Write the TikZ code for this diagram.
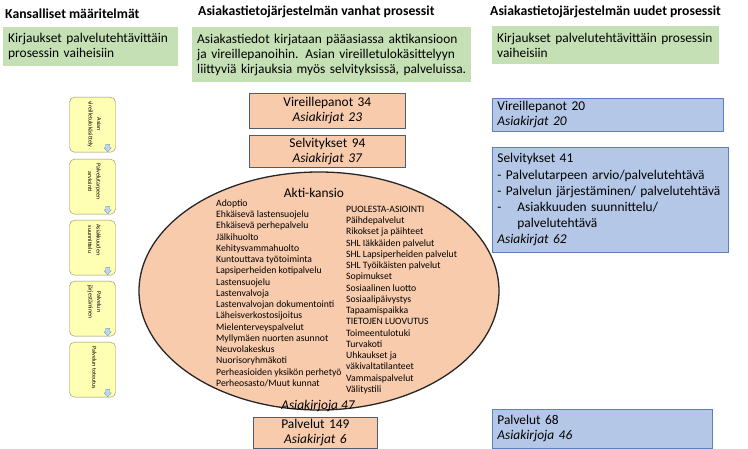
\documentclass[tikz,border=0pt]{standalone}
\usepackage{fontspec}
\setmainfont{Carlito}
\usetikzlibrary{shapes.geometric, positioning}

\definecolor{vihrea}{HTML}{C5E0B4}
\definecolor{persikka}{HTML}{F8CBAD}
\definecolor{persikkaraja}{HTML}{4E5E6E}
\definecolor{sininen}{HTML}{B4C7E7}
\definecolor{sinraja}{HTML}{5B7FBF}
\definecolor{keltainen}{HTML}{FFFFB3}
\definecolor{keltraja}{HTML}{8E8E60}
\definecolor{nuoli}{HTML}{BDD7EE}
\definecolor{nuoliraja}{HTML}{7A9CC6}

\begin{document}
\begin{tikzpicture}[x=1pt, y=-1pt,
		otsikko/.style={anchor=base west, inner sep=0pt, font=\fontsize{13.7}{15}\selectfont\bfseries},
		laatikko/.style={anchor=north west, inner xsep=5pt, inner ysep=0pt, align=left, font=\fontsize{13.4}{15}\selectfont},
		vihrealaatikko/.style={laatikko, fill=vihrea},
		sinilaatikko/.style={laatikko, fill=sininen, draw=sinraja, thick},
		persikkalaatikko/.style={laatikko, align=center, fill=persikka, draw=persikkaraja, thick},
		vaihe/.style={draw=keltraja, fill=keltainen, rounded corners=5pt, minimum width=46pt, minimum height=55pt, inner sep=0pt},
		vaiheteksti/.style={rotate=-90, anchor=west, align=center, inner sep=0pt, font=\fontsize{6}{8.5}\selectfont},
		lista/.style={anchor=north west, align=left, inner sep=0pt, font=\fontsize{9.7}{11.25}\selectfont}]
		
		\useasboundingbox (0,0) rectangle (748,449);
		
		% otsikot
		\node[otsikko] (kansalliset) at (5,18.5) {Kansalliset määritelmät};
		\node[otsikko] (vanhat) at (198,16) {Asiakastietojärjestelmän vanhat prosessit};
		\node[otsikko] (uudet) at (490,16) {Asiakastietojärjestelmän uudet prosessit};
		
		\node[vihrealaatikko, text width=165pt, minimum height=39pt] (kirjaukset) at (3,27)
		{Kirjaukset palvelutehtävittäin\\prosessin vaiheisiin};
		\node[vihrealaatikko, text width=269pt, minimum height=55pt] (kuvaus) at (192,27)
		{Asiakastiedot kirjataan pääasiassa aktikansioon\\ja vireillepanoihin. Asian vireilletulokäsittelyyn\\liittyviä kirjauksia myös selvityksissä, palveluissa.};
		\node[vihrealaatikko, text width=217pt, minimum height=38pt] (kirjauksetuudet) at (492,26)
		{Kirjaukset palvelutehtävittäin prosessin\\vaiheisiin};
		
		% prosessin vaiheet
		\foreach \ylaraja/\teksti [count=\i] in {97/{Asian\\vireilletulokäsittely}, 159/{Palvelutarpeen\\arviointi},
			220/{Asiakkuuden\\suunnittelu}, 281/{Palvelun\\järjestäminen}, 342/{Palvelun toteutus}} {
			\node[vaihe, anchor=north] (vaihe\i) at (92.5,\ylaraja) {};
			\node[vaiheteksti] (vaiheteksti\i) at ([xshift=2pt, yshift=-4pt]vaihe\i.north) {\teksti};
			\draw[fill=nuoli, draw=nuoliraja, line width=0.4pt] ([xshift=-10pt, yshift=8pt]vaihe\i.south east)
			-- ++(4,0) -- ++(0,3.5) -- ++(1.5,0) -- ++(-3.5,4) -- ++(-3.5,-4) -- ++(1.5,0) -- cycle;
		}
		
		% vanhat
		\node[persikkalaatikko, text width=146pt, minimum height=35pt] (vireille) at (249,93)
		{Vireillepanot 34\\\textit{Asiakirjat 23}};
		\node[persikkalaatikko, text width=146pt, minimum height=32pt] (selvitykset) at (249,135)
		{Selvitykset 94\\\textit{Asiakirjat 37}};
		
		\node[ellipse, draw=black!85, line width=1.3pt, fill=persikka, minimum width=360pt,
		minimum height=238pt, inner sep=0pt] (akti) at (319,291) {};
		\node[font=\fontsize{13.4}{15}\selectfont, inner sep=0pt] (aktiotsikko) at (314,193) {Akti-kansio};
		\node[lista] (lista1) at (216,199.5) {Adoptio\\Ehkäisevä lastensuojelu\\Ehkäisevä perhepalvelu\\Jälkihuolto\\
			Kehitysvammahuolto\\Kuntouttava työtoiminta\\Lapsiperheiden kotipalvelu\\Lastensuojelu\\Lastenvalvoja\\
			Lastenvalvojan dokumentointi\\Läheisverkostosijoitus\\Mielenterveyspalvelut\\Myllymäen nuorten asunnot\\
			Neuvolakeskus\\Nuorisoryhmäkoti\\Perheasioiden yksikön perhetyö\\Perheosasto/Muut kunnat};
		\node[lista] (lista2) at (346,206) {PUOLESTA-ASIOINTI\\Päihdepalvelut\\Rikokset ja päihteet\\SHL Iäkkäiden palvelut\\
			SHL Lapsiperheiden palvelut\\SHL Työikäisten palvelut\\Sopimukset\\Sosiaalinen luotto\\Sosiaalipäivystys\\
			Tapaamispaikka\\TIETOJEN LUOVUTUS\\Toimeentulotuki\\Turvakoti\\Uhkaukset ja\\väkivaltatilanteet\\
			Vammaispalvelut\\Välitystili};
		\node[font=\fontsize{13.4}{15}\selectfont\itshape, inner sep=0pt] (aktiasiakirjat) at (318,406) {Asiakirjoja 47};
		
		\node[persikkalaatikko, text width=114pt, minimum height=31pt] (palvelut) at (253,417)
		{Palvelut 149\\\textit{Asiakirjat 6}};
		
		% uudet
		\node[sinilaatikko, text width=221pt, minimum height=33pt] (vireilleuudet) at (492,98)
		{Vireillepanot 20\\\textit{Asiakirjat 20}};
		\node[sinilaatikko, text width=226pt, minimum height=105pt, font=\fontsize{13.4}{16.2}\selectfont] (selvityksetuudet) at (492,147)
		{Selvitykset 41\\- Palvelutarpeen arvio/palvelutehtävä\\- Palvelun järjestäminen/ palvelutehtävä\\
			\makebox[20pt][l]{-}Asiakkuuden suunnittelu/\\\hspace*{20pt}palvelutehtävä\\\textit{Asiakirjat 62}};
		\node[sinilaatikko, text width=210pt, minimum height=39pt] (palvelutuudet) at (492,409)
		{Palvelut 68\\\textit{Asiakirjoja 46}};
		
	\end{tikzpicture}
\end{document}
